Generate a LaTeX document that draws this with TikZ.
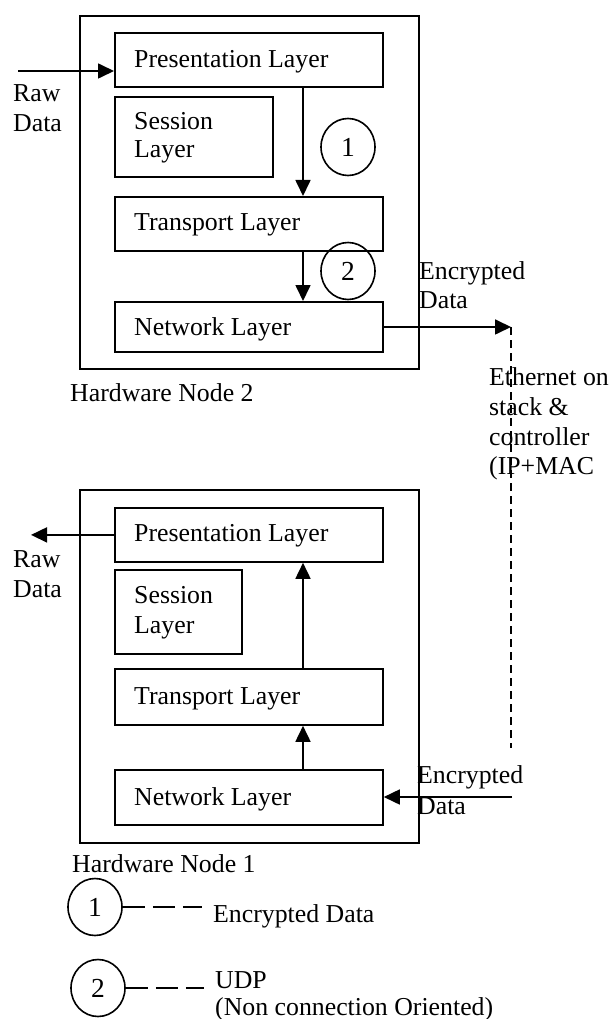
\documentclass[tikz,border=0pt]{standalone}
\usepackage{fontspec}
\setmainfont{Liberation Serif}
\usetikzlibrary{arrows.meta,shapes.geometric}

\tikzset{
  frame/.style={draw, line width=1.9pt, minimum width=339pt, minimum height=353pt, anchor=north west, inner sep=0pt},
  layer/.style={draw, line width=1.8pt, anchor=north west, inner sep=0pt},
  txt/.style={anchor=base west, inner sep=0pt, font=\fontsize{25.8}{30}\selectfont},
  numring/.style={draw, ellipse, line width=1.6pt, minimum width=54pt, minimum height=57pt, inner sep=0pt, font=\fontsize{27.5}{30}\selectfont},
  flow/.style={line width=1.7pt, -{Triangle[length=16pt,width=15pt]}},
  wire/.style={line width=1.2pt, dash pattern=on 8pt off 5pt},
  keyline/.style={line width=1.7pt, dash pattern=on 22pt off 8pt}
}

\begin{document}
\begin{tikzpicture}[x=1pt, y=-1pt]
\useasboundingbox (0,0) rectangle (610,1019);

% ---------- Hardware Node 2 (sender) ----------
\node[frame] (hw2) at (79,15) {};
\node[layer, minimum width=268pt, minimum height=54pt] (p2) at (114,32) {};
\node[layer, minimum width=158pt, minimum height=80pt] (s2) at (114,96) {};
\node[layer, minimum width=268pt, minimum height=54pt] (t2) at (114,196) {};
\node[layer, minimum width=268pt, minimum height=50pt] (n2) at (114,301) {};
\node[txt] (p2t) at (134,68) {Presentation Layer};
\node[txt] (s2t) at (134,130) {Session};
\node[txt] (s2u) at (134,158) {Layer};
\node[txt] (t2t) at (134,230) {Transport Layer};
\node[txt] (n2t) at (134,335) {Network Layer};
\node[numring] (c1) at (348,147) {1};
\node[numring] (c2) at (348,271) {2};
\node[txt] (hw2t) at (70,401) {Hardware Node 2};

\coordinate (ax) at (303,0);
\coordinate (rawin) at (18,71);
\draw[flow] (rawin) -- (rawin -| p2.west);
\node[txt] (raw2a) at (13,102) {Raw};
\node[txt] (raw2b) at (13,132) {Data};
\draw[flow] (p2.south -| ax) -- (t2.north -| ax);
\draw[flow] (t2.south -| ax) -- (n2.north -| ax);

% ---------- link between the nodes ----------
\coordinate (ethtop) at (511,327);
\coordinate (ethbot) at (511,748);
\coordinate (ethin) at (512,797);
\draw[flow] (n2.east) -- (ethtop);
\draw[wire] (ethtop) -- (ethbot);
\node[txt] (enc2a) at (419,279) {Encrypted};
\node[txt] (enc2b) at (419,308) {Data};
\node[txt] (eth1) at (489,385) {Ethernet on};
\node[txt] (eth2) at (489,415) {stack \&};
\node[txt] (eth3) at (489,445) {controller};
\node[txt] (eth4) at (489,474) {(IP+MAC};

% ---------- Hardware Node 1 (receiver) ----------
\node[frame] (hw1) at (79,489) {};
\node[layer, minimum width=268pt, minimum height=54pt] (p1) at (114,507) {};
\node[layer, minimum width=127pt, minimum height=84pt] (s1) at (114,569) {};
\node[layer, minimum width=268pt, minimum height=56pt] (t1) at (114,668) {};
\node[layer, minimum width=268pt, minimum height=55pt] (n1) at (114,769) {};
\node[txt] (p1t) at (134,541) {Presentation Layer};
\node[txt] (s1t) at (134,603) {Session};
\node[txt] (s1u) at (134,633) {Layer};
\node[txt] (t1t) at (134,704) {Transport Layer};
\node[txt] (n1t) at (134,805) {Network Layer};
\node[txt] (hw1t) at (72,872) {Hardware Node 1};

\coordinate (rawout) at (31,0);
\draw[flow] (p1.west) -- (p1.west -| rawout);
\node[txt] (raw1a) at (13,567) {Raw};
\node[txt] (raw1b) at (13,597) {Data};
\draw[flow] (n1.north -| ax) -- (t1.south -| ax);
\draw[flow] (t1.north -| ax) -- (p1.south -| ax);
\draw[flow] (ethin) -- (ethin -| n1.east);
\node[txt] (enc1a) at (417,783) {Encrypted};
\node[txt] (enc1b) at (417,814) {Data};

% ---------- legend ----------
\node[numring] (k1) at (95,907) {1};
\node[numring] (k2) at (98,988) {2};
\coordinate (k1end) at (202,907);
\coordinate (k2end) at (204,988);
\draw[keyline] (k1.east) -- (k1end);
\draw[keyline] (k2.east) -- (k2end);
\node[txt] (k1t) at (213,922) {Encrypted Data};
\node[txt] (k2t) at (215,988) {UDP};
\node[txt] (k2u) at (215,1015) {(Non connection Oriented)};
\end{tikzpicture}
\end{document}
